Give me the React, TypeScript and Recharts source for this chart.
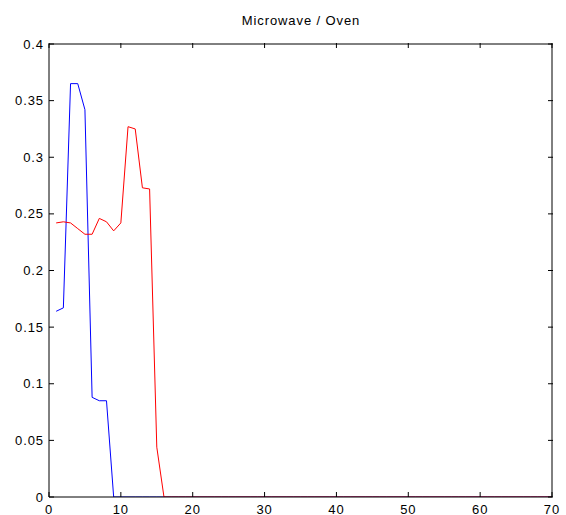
import { Line, LineChart, XAxis, YAxis } from "recharts";

const TITLE = "Microwave / Oven";

// samples 1..70
const sampleIndex = [
  1, 2, 3, 4, 5, 6, 7, 8, 9, 10, 11, 12, 13, 14, 15, 16, 17, 18, 19, 20,
  21, 22, 23, 24, 25, 26, 27, 28, 29, 30, 31, 32, 33, 34, 35, 36, 37, 38, 39, 40,
  41, 42, 43, 44, 45, 46, 47, 48, 49, 50, 51, 52, 53, 54, 55, 56, 57, 58, 59, 60,
  61, 62, 63, 64, 65, 66, 67, 68, 69, 70,
];

const blueSeries = [
  0.164, 0.167, 0.365, 0.365, 0.342, 0.088, 0.085, 0.085, 0, 0,
  0, 0, 0, 0, 0, 0, 0, 0, 0, 0,
  0, 0, 0, 0, 0, 0, 0, 0, 0, 0,
  0, 0, 0, 0, 0, 0, 0, 0, 0, 0,
  0, 0, 0, 0, 0, 0, 0, 0, 0, 0,
  0, 0, 0, 0, 0, 0, 0, 0, 0, 0,
  0, 0, 0, 0, 0, 0, 0, 0, 0, 0,
];

const redSeries = [
  0.242, 0.243, 0.242, 0.237, 0.232, 0.232, 0.246, 0.243, 0.235, 0.242,
  0.327, 0.325, 0.273, 0.272, 0.044, 0, 0, 0, 0, 0,
  0, 0, 0, 0, 0, 0, 0, 0, 0, 0,
  0, 0, 0, 0, 0, 0, 0, 0, 0, 0,
  0, 0, 0, 0, 0, 0, 0, 0, 0, 0,
  0, 0, 0, 0, 0, 0, 0, 0, 0, 0,
  0, 0, 0, 0, 0, 0, 0, 0, 0, 0,
];

const xTicks = [0, 10, 20, 30, 40, 50, 60, 70];
const yTicks = [0, 0.05, 0.1, 0.15, 0.2, 0.25, 0.3, 0.35, 0.4];

const data = sampleIndex.map((x, i) => ({ x, blue: blueSeries[i], red: redSeries[i] }));

const FONT = "'Liberation Sans', Arial, sans-serif";
const W = 566;
const H = 515;
const MARGIN = { top: 43, right: 13, left: 0, bottom: 0 };
const Y_AXIS_W = 49;
const X_AXIS_H = 18;
const PLOT_TOP = MARGIN.top;
const PLOT_RIGHT = W - MARGIN.right;
const T = 5; // inward tick length, matlab style

// bottom tick also draws the matching mark on the top edge of the box
function BottomTick({ x, y, payload }: any) {
  return (
    <g>
      <path d={`M${x},${y}V${y - T}`} stroke="#000" strokeWidth={1} fill="none" />
      <path d={`M${x},${PLOT_TOP}V${PLOT_TOP + T}`} stroke="#000" strokeWidth={1} fill="none" />
      <text
        x={x}
        y={y + 8}
        dy="0.71em"
        textAnchor="middle"
        fontFamily={FONT}
        fontSize={13}
        letterSpacing={0.9}
        fill="#000"
      >
        {payload.value}
      </text>
    </g>
  );
}

// left tick also draws the mark on the right edge
function LeftTick({ x, y, payload }: any) {
  return (
    <g>
      <path d={`M${x},${y}H${x + T}`} stroke="#000" strokeWidth={1} fill="none" />
      <path d={`M${PLOT_RIGHT},${y}H${PLOT_RIGHT - T}`} stroke="#000" strokeWidth={1} fill="none" />
      <text
        x={x - 5}
        y={y}
        dy="0.355em"
        textAnchor="end"
        fontFamily={FONT}
        fontSize={13}
        letterSpacing={0.9}
        fill="#000"
      >
        {payload.value}
      </text>
    </g>
  );
}

const axisStroke = { stroke: "#000" };

export default function App() {
  return (
    <div
      style={{
        position: "absolute",
        left: 0,
        top: 0,
        width: W,
        height: H,
        background: "#fff",
        overflow: "hidden",
      }}
    >
      <div
        style={{
          position: "absolute",
          left: Y_AXIS_W,
          width: PLOT_RIGHT - Y_AXIS_W,
          top: 13,
          textAlign: "center",
          fontFamily: FONT,
          fontSize: 13,
          letterSpacing: 0.9,
          color: "#000",
        }}
      >
        {TITLE}
      </div>
      <LineChart width={W} height={H} data={data} margin={MARGIN}>
        <XAxis
          dataKey="x"
          type="number"
          domain={[0, 70]}
          ticks={xTicks}
          interval={0}
          height={X_AXIS_H}
          tickSize={0}
          tickMargin={0}
          tickLine={false}
          axisLine={axisStroke}
          tick={<BottomTick />}
          allowDataOverflow
        />
        <XAxis
          xAxisId="top"
          orientation="top"
          type="number"
          domain={[0, 70]}
          height={1}
          tickLine={false}
          axisLine={axisStroke}
          tick={false}
          allowDataOverflow
        />
        <YAxis
          type="number"
          domain={[0, 0.4]}
          ticks={yTicks}
          interval={0}
          width={Y_AXIS_W}
          tickSize={0}
          tickMargin={0}
          tickLine={false}
          axisLine={axisStroke}
          tick={<LeftTick />}
          allowDataOverflow
        />
        <YAxis
          yAxisId="right"
          orientation="right"
          type="number"
          domain={[0, 0.4]}
          width={1}
          tickLine={false}
          axisLine={axisStroke}
          tick={false}
          allowDataOverflow
        />
        <Line
          type="linear"
          dataKey="blue"
          stroke="#0000ff"
          strokeWidth={1}
          dot={false}
          isAnimationActive={false}
        />
        <Line
          type="linear"
          dataKey="red"
          stroke="#ff0000"
          strokeWidth={1}
          dot={false}
          isAnimationActive={false}
        />
      </LineChart>
    </div>
  );
}
